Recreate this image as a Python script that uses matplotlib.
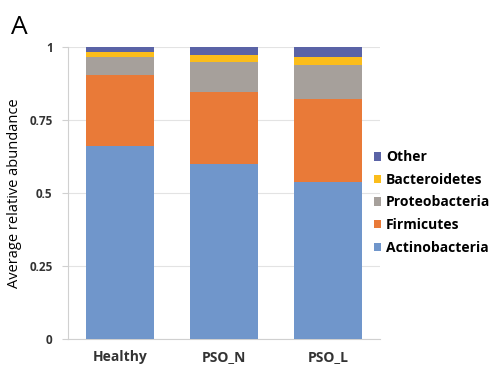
import matplotlib
matplotlib.use("Agg")
import matplotlib.pyplot as plt
import numpy as np

# data
groups = ["Healthy", "PSO_N", "PSO_L"]
phyla = ["Actinobacteria", "Firmicutes", "Proteobacteria", "Bacteroidetes", "Other"]
actinobacteria = [0.661, 0.599, 0.538]
firmicutes = [0.243, 0.248, 0.283]
proteobacteria = [0.060, 0.102, 0.117]
bacteroidetes = [0.018, 0.024, 0.029]
other = [0.018, 0.027, 0.033]
colors = ["#7096CB", "#E97A38", "#A6A09B", "#FBBD1B", "#5A63A6"]

plt.rcParams['font.family'] = ['Open Sans', 'DejaVu Sans']

fig = plt.figure(figsize=(5, 3.82), dpi=100)
ax = fig.add_axes([0.136, 0.1126, 0.624, 0.7644])

x = np.arange(len(groups))
bottom = np.zeros(len(groups))
series = [actinobacteria, firmicutes, proteobacteria, bacteroidetes, other]
for name, vals, c in zip(phyla, series, colors):
    ax.bar(x, vals, width=0.645, bottom=bottom, color=c, label=name, zorder=3)
    bottom += np.array(vals)

ax.set_xlim(-0.5, 2.5)
ax.set_ylim(0, 1)
ax.set_yticks([0, 0.25, 0.5, 0.75, 1])
ax.set_yticklabels(["0", "0.25", "0.5", "0.75", "1"], fontsize=8.5, fontweight='bold', color='#333333')
ax.set_xticks(x)
ax.set_xticklabels(groups, fontsize=10, fontweight='bold', color='#333333')
ax.tick_params(axis='x', length=0, pad=8)
ax.tick_params(axis='y', length=4, color='#D0D0D0', pad=7)
ax.grid(axis='y', color='#E3E3E3', linewidth=0.8, zorder=0)
for s in ['top', 'right']:
    ax.spines[s].set_visible(False)
ax.spines['left'].set_color('#D0D0D0')
ax.spines['bottom'].set_color('#D0D0D0')
ax.set_ylabel("Average relative abundance", fontsize=10.5, labelpad=5)

handles, labels = ax.get_legend_handles_labels()
fig.legend(handles[::-1], labels[::-1], loc='center left', bbox_to_anchor=(0.722, 0.47),
           frameon=False, handlelength=0.55, handleheight=0.55, handletextpad=0.35,
           labelspacing=0.62, prop={'weight': 'bold', 'size': 10})

fig.text(0.022, 0.91, "A", fontsize=19)

fig.savefig("out.png", dpi=100)
